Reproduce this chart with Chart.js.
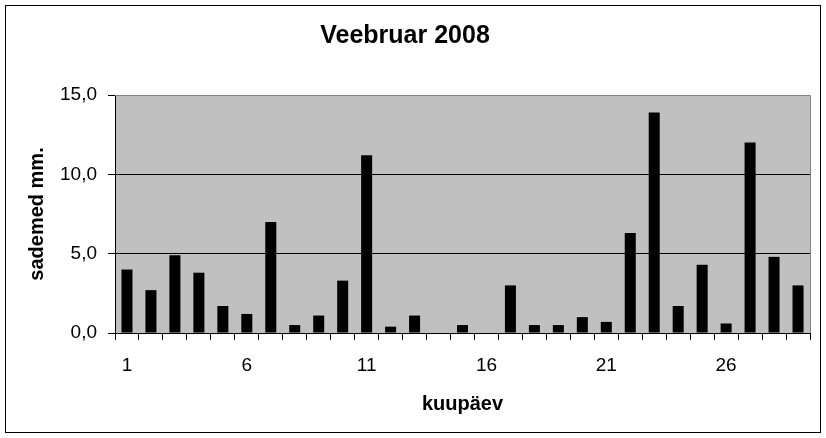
<!DOCTYPE html>
<html>
<head>
<meta charset="utf-8">
<script src="https://cdn.jsdelivr.net/npm/chart.js@4/dist/chart.umd.min.js"></script>
<style>
  html, body { margin: 0; padding: 0; background: #fff; }
  #wrap { width: 826px; height: 438px; position: relative; }
</style>
</head>
<body>
<div id="wrap"><canvas id="rainChart"></canvas></div>
<script>
const days = [];
for (let d = 1; d <= 29; d++) days.push(String(d));

const rainfall = [4.0, 2.7, 4.9, 3.8, 1.7, 1.2, 7.0, 0.5, 1.1, 3.3,
                  11.2, 0.4, 1.1, 0, 0.5, 0, 3.0, 0.5, 0.5, 1.0,
                  0.7, 6.3, 13.9, 1.7, 4.3, 0.6, 12.0, 4.8, 3.0];

const yTicks = [0, 5, 10, 15];

const plotBg = {
  id: "plotBg",
  beforeDraw(chart) {
    const { ctx, chartArea: a } = chart;
    ctx.save();
    ctx.fillStyle = "#C0C0C0";
    ctx.fillRect(a.left, a.top, a.right - a.left, a.bottom - a.top);
    ctx.restore();
  },
  afterDraw(chart) {
    const { ctx, chartArea: a } = chart;
    ctx.save();
    ctx.strokeStyle = "#808080";
    ctx.lineWidth = 1;
    ctx.beginPath();
    ctx.moveTo(a.left, a.top + 0.5);
    ctx.lineTo(a.right + 0.5, a.top + 0.5);
    ctx.lineTo(a.right + 0.5, a.bottom);
    ctx.stroke();
    // outer frame
    ctx.strokeStyle = "#000";
    ctx.strokeRect(5.5, 5.5, 815, 427);
    ctx.restore();
  }
};

const ctx = document.getElementById("rainChart").getContext("2d");

new Chart(ctx, {
  type: "bar",
  data: {
    labels: days,
    datasets: [{
      data: rainfall,
      backgroundColor: "#000",
      barPercentage: 0.46,
      categoryPercentage: 1.0
    }]
  },
  options: {
    responsive: true,
    maintainAspectRatio: false,
    animation: false,
    layout: { padding: { left: 0, right: 16, top: 0, bottom: 0 } },
    plugins: {
      legend: { display: false },
      tooltip: { enabled: false },
      title: {
        display: true,
        text: "Veebruar 2008",
        color: "#000",
        font: { family: "'Liberation Sans', Arial", size: 25, weight: "bold" },
        padding: { top: 21, bottom: 44 }
      }
    },
    scales: {
      x: {
        offset: true,
        afterFit(s) { s.height = 105; },
        grid: {
          offset: true,
          drawOnChartArea: false,
          color: "#000",
          tickColor: "#000",
          tickLength: 7
        },
        border: { color: "#000", width: 1 },
        ticks: {
          autoSkip: false,
          maxRotation: 0,
          padding: 14,
          color: "#000",
          font: { family: "'Liberation Sans', Arial", size: 19 },
          callback(v, i) { return i % 5 === 0 ? days[i] : ""; }
        },
        title: {
          display: true,
          text: "kuupäev",
          color: "#000",
          font: { family: "'Liberation Sans', Arial", size: 20, weight: "bold" },
          padding: { top: 22, bottom: 22 }
        }
      },
      y: {
        min: 0,
        max: 15,
        afterFit(s) { s.width = 115; },
        afterBuildTicks(s) { s.ticks = yTicks.map(v => ({ value: v })); },
        grid: {
          color: ctx => (ctx.tick && ctx.tick.value === 15) ? "rgba(0,0,0,0)" : "#000",
          tickColor: "#000",
          tickLength: 7
        },
        border: { color: "#000", width: 1 },
        ticks: {
          padding: 11,
          color: "#000",
          font: { family: "'Liberation Sans', Arial", size: 19 },
          callback(v) { return v.toFixed(1).replace(".", ","); }
        },
        title: {
          display: true,
          text: "sademed mm.",
          color: "#000",
          font: { family: "'Liberation Sans', Arial", size: 20, weight: "bold" },
          padding: { top: 25, bottom: 25 }
        }
      }
    }
  },
  plugins: [plotBg]
});
</script>
</body>
</html>
